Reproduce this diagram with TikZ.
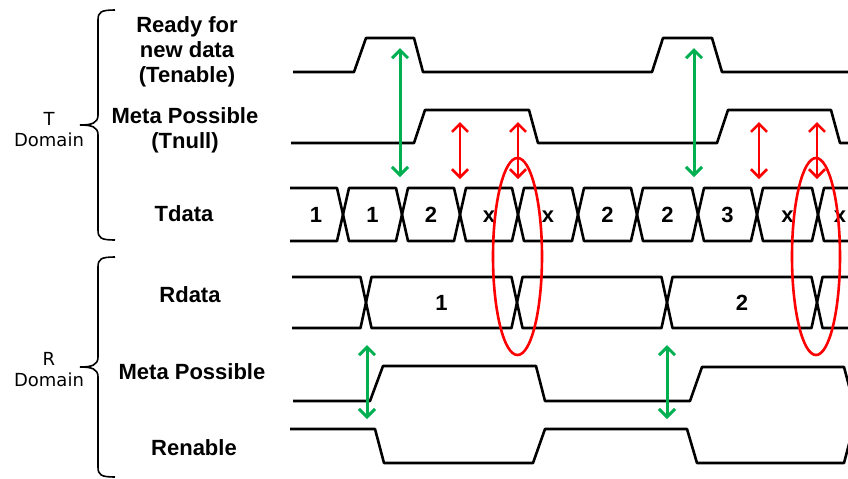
\documentclass[tikz,border=0pt]{standalone}
\usepackage{fontspec}
\setmainfont{Liberation Sans}
\newfontfamily\domfont{DejaVu Sans}
\usepackage{tikz}
\usetikzlibrary{arrows.meta, positioning, calc}
\definecolor{syncgreen}{RGB}{0,176,80}

\begin{document}
\begin{tikzpicture}[x=0.5pt, y=-0.5pt,
	wave/.style={line width=1.3pt, line join=round},
	signame/.style={font=\bfseries\fontsize{11}{12.4}\selectfont, align=center},
	val/.style={font=\bfseries\fontsize{11}{12}\selectfont, anchor=base},
	domname/.style={font=\domfont\fontsize{9}{10.5}\selectfont, align=center},
	syncarrow/.style={syncgreen, line width=1.5pt, {Straight Barb[length=4pt,width=8pt]}-{Straight Barb[length=4pt,width=8pt]}},
	metaarrow/.style={red, line width=1.3pt, {Straight Barb[length=4pt,width=8pt]}-{Straight Barb[length=4pt,width=8pt]}},
	window/.style={red, line width=1.3pt}]
		
		\useasboundingbox (0,0) rectangle (848,478);
		\clip (0,0) rectangle (848,478);
		
		%//domains
		\foreach \t/\b in {10/240, 257/477}
		{
		\pgfmathsetmacro{\m}{(\t+\b)/2}
		\draw[line width=0.8pt] (115,\t) .. controls (101,\t) and (98,\t+2) .. (98,\t+10) -- (98,\m-10)
			.. controls (98,\m-2) and (92,\m) .. (80,\m) .. controls (92,\m) and (98,\m+2) .. (98,\m+10)
			-- (98,\b-10) .. controls (98,\b-2) and (101,\b) .. (115,\b);
		}
		\node[domname] (tdom) at (49,130) {T\\Domain};
		\node[domname] (rdom) at (49,370) {R\\Domain};
		
		%//signal names
		\node[signame] (tenable) at (187,52) {Ready for\\new data\\(Tenable)};
		\node[signame] (tnull) at (185,130) {Meta Possible\\(Tnull)};
		\node[signame] (tdata) at (184,214) {Tdata};
		\node[signame] (rdata) at (190,295) {Rdata};
		\node[signame] (rmeta) at (192,372) {Meta Possible};
		\node[signame] (renable) at (194,448) {Renable};
		
		%//T domain
		\draw[wave] (293,72) -- (354,72) -- (366,38) -- (414,38) -- (423,72) -- (652,72) -- (663,38) -- (712,38) -- (722,72) -- (848,72);
		\draw[wave] (291,143) -- (414,143) -- (425,110) -- (529,110) -- (538,143) -- (717,143) -- (728,110) -- (831,110) -- (840,143) -- (848,143);
		
		\draw[wave] (290,188) -- (337,188) -- (343,214.5) -- (337,241) -- (290,241);
		\node[val] (td0) at (316,222) {1};
		\foreach \a/\b/\v [count=\i] in {343/402/1, 402/460/2, 460/518/x, 518/578/x, 578/637/2, 637/698/2, 698/757/3, 757/818/x, 818/862/x}
		{
		\draw[wave] (\a,214.5) -- (\a+6,188) -- (\b-6,188) -- (\b,214.5) -- (\b-6,241) -- (\a+6,241) -- cycle;
		\node[val] (td\i) at ({(\a+\b)/2},222) {\v};
		}
		
		%//R domain
		\draw[wave] (292,277) -- (360.5,277) -- (366,302.5) -- (360.5,328) -- (292,328);
		\foreach \a/\b in {366/517, 517/667, 667/817, 817/890}
		\draw[wave] (\a,302.5) -- (\a+5.5,277) -- (\b-5.5,277) -- (\b,302.5) -- (\b-5.5,328) -- (\a+5.5,328) -- cycle;
		\node[val] (rd1) at (441.5,310) {1};
		\node[val] (rd2) at (742,310) {2};
		
		\draw[wave] (293,401) -- (370,401) -- (383,366) -- (536,366) -- (545,401) -- (690,401) -- (702,367) -- (844,367) -- (853,401);
		\draw[wave] (290,429) -- (375,429) -- (384,463) -- (533,463) -- (545,429) -- (687,429) -- (697,463) -- (844,463) -- (853,429);
		
		%//arrows
		\foreach \x [count=\i] in {400, 694}
		{
		\coordinate (gt\i) at (\x,48);
		\coordinate (gb\i) at (\x,177);
		\draw[syncarrow] (gt\i) -- (gb\i);
		}
		\foreach \x [count=\i] in {460, 518, 759, 817}
		{
		\coordinate (mt\i) at (\x,122);
		\coordinate (mb\i) at (\x,179);
		\draw[metaarrow] (mt\i) -- (mb\i);
		}
		\foreach \x [count=\i] in {367, 667}
		{
		\coordinate (rt\i) at (\x,345);
		\coordinate (rb\i) at (\x,419);
		\draw[syncarrow] (rt\i) -- (rb\i);
		}
		
		%//windows
		\draw[window] (517.5,256.5) ellipse [x radius=24.5, y radius=98.5];
		\draw[window] (816,256.5) ellipse [x radius=24, y radius=98.5];
		
		\end{tikzpicture}
\end{document}
